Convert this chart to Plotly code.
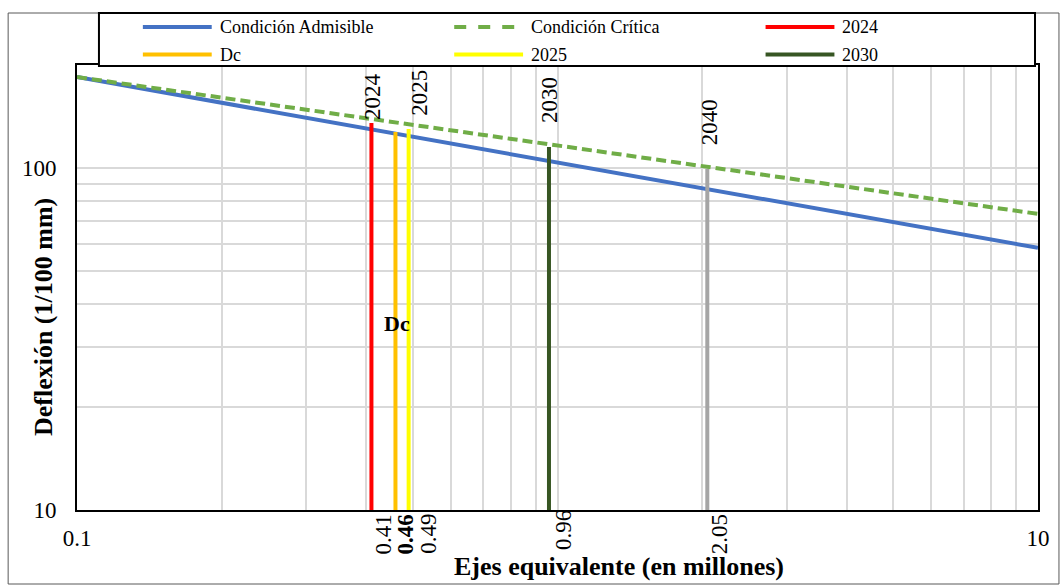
import math
import plotly.graph_objects as go

# Deflection limit curves (1/100 mm) versus equivalent axles (millions)
ejes_curva = [0.1, 1, 10]
admisible = [184.4, 104.0, 58.4]
critica = [184.4, 116.7, 73.4]

# Design-year markers: equivalent axles and the deflection reached
marcas = ["2024", "Dc", "2025", "2030", "2040"]
ejes_marca = [0.41, 0.46, 0.49, 0.96, 2.05]
defl_marca = [135.4, 127.4, 130.0, 115.2, 99.3]
defl_base = 10

x_ticks = [0.1, 1, 10]
x_ticktext = ["0.1", "", "10"]
y_ticks = [10, 100]
y_ticktext = ["10", "100"]

FONT = "Liberation Serif"
W, H = 1062, 585
L, R, T, B = 77, 1040, 65, 510

colores = {
    "Condición Admisible": "#4472C4",
    "Condición Crítica": "#70AD47",
    "2024": "#FF0000",
    "Dc": "#FFC000",
    "2025": "#FFFF00",
    "2030": "#375623",
    "2040": "#A5A5A5",
}


def px(xp):
    return (xp - L) / (R - L)


def py(yp):
    return (B - yp) / (B - T)


fig = go.Figure()
fig.add_trace(go.Scatter(x=ejes_curva, y=admisible, mode="lines", name="Condición Admisible",
                         line=dict(color=colores["Condición Admisible"], width=4), showlegend=False))
fig.add_trace(go.Scatter(x=ejes_curva, y=critica, mode="lines", name="Condición Crítica",
                         line=dict(color=colores["Condición Crítica"], width=4, dash="10px,5px"),
                         showlegend=False))
for nombre, xv, yv in zip(marcas, ejes_marca, defl_marca):
    fig.add_trace(go.Scatter(x=[xv, xv], y=[defl_base, yv], mode="lines", name=nombre,
                             line=dict(color=colores[nombre], width=4), showlegend=False))

annotations = []

# Year labels above the vertical markers (vertical text)
etiquetas_sup = {"2024": (1, 1), "2025": (11, 11), "2030": (1, 22), "2040": (2, 22)}
for nombre, xv, yv in zip(marcas, ejes_marca, defl_marca):
    if nombre in etiquetas_sup:
        dx, dy = etiquetas_sup[nombre]
        annotations.append(dict(x=math.log10(xv), y=math.log10(yv), xref="x", yref="y",
                                text=nombre, textangle=-90, showarrow=False,
                                xanchor="center", yanchor="bottom", xshift=dx, yshift=dy,
                                font=dict(family=FONT, size=23, color="black")))

# Axle values under the markers
desfase_inf = [(12, -2), (10, -2), (19, -2), (14, 2), (12, -2)]
for nombre, xv, (dx, dy) in zip(marcas, ejes_marca, desfase_inf):
    txt = f"<b>{xv:.2f}</b>" if nombre == "Dc" else f"{xv:.2f}"
    annotations.append(dict(x=math.log10(xv), y=0, xref="x", yref="paper",
                            text=txt, textangle=-90, showarrow=False,
                            xanchor="center", yanchor="top", xshift=dx, yshift=dy,
                            font=dict(family=FONT, size=23, color="black")))

annotations.append(dict(x=math.log10(ejes_marca[1]), y=py(323), xref="x", yref="paper",
                        text="<b>Dc</b>", showarrow=False, xanchor="center", yanchor="middle",
                        xshift=2, font=dict(family=FONT, size=22, color="black")))

# Axis titles
annotations.append(dict(x=px(620), y=py(566), xref="paper", yref="paper",
                        text="<b>Ejes equivalente (en millones)</b>", showarrow=False,
                        xanchor="center", yanchor="middle",
                        font=dict(family=FONT, size=26, color="black")))
annotations.append(dict(x=px(43), y=py(317), xref="paper", yref="paper",
                        text="<b>Deflexión (1/100 mm)</b>", showarrow=False, textangle=-90,
                        xanchor="center", yanchor="middle",
                        font=dict(family=FONT, size=26, color="black")))

shapes = []
# Outer chart frame
shapes.append(dict(type="rect", xref="paper", yref="paper", x0=px(8), x1=px(1061),
                   y0=py(584), y1=py(13), line=dict(color="#595959", width=1), layer="below"))
# Legend box
shapes.append(dict(type="rect", xref="paper", yref="paper", x0=px(99), x1=px(1037),
                   y0=py(66), y1=py(13), line=dict(color="black", width=2),
                   fillcolor="white", layer="above"))

# Legend entries: three columns, two rows
leyenda = ["Condición Admisible", "Condición Crítica", "2024", "Dc", "2025", "2030"]
col_x = [143, 455, 767]
fila_y = [27, 54.5]
for i, nombre in enumerate(leyenda):
    x0 = col_x[i % 3]
    y0 = fila_y[i // 3]
    dash = "dash" if nombre == "Condición Crítica" else "solid"
    shapes.append(dict(type="line", xref="paper", yref="paper", x0=px(x0), x1=px(x0 + 69),
                       y0=py(y0), y1=py(y0), layer="above",
                       line=dict(color=colores[nombre], width=4, dash=dash)))
    annotations.append(dict(x=px(x0 + 75), y=py(y0), xref="paper", yref="paper", text=nombre,
                            showarrow=False, xanchor="left", yanchor="middle",
                            font=dict(family=FONT, size=18, color="black")))

grid = "#D9D9D9"
fig.update_layout(
    width=W, height=H,
    margin=dict(l=L, r=W - R, t=T, b=H - B),
    paper_bgcolor="white", plot_bgcolor="white",
    showlegend=False,
    annotations=annotations, shapes=shapes,
    xaxis=dict(type="log", range=[-1, 1], tickvals=x_ticks, ticktext=x_ticktext,
               showgrid=True, gridcolor=grid, gridwidth=1.5,
               minor=dict(dtick="D1", showgrid=True, gridcolor=grid, gridwidth=1.5),
               showline=True, linecolor="black", linewidth=2, mirror=True,
               ticks="", ticklabelstandoff=6, zeroline=False,
               tickfont=dict(family=FONT, size=23, color="black")),
    yaxis=dict(type="log", range=[1, math.log10(200)], tickvals=y_ticks, ticktext=y_ticktext,
               showgrid=True, gridcolor=grid, gridwidth=1.5,
               minor=dict(dtick="D1", showgrid=True, gridcolor=grid, gridwidth=1.5),
               showline=True, linecolor="black", linewidth=2, mirror=True,
               ticks="", ticklabelstandoff=14, zeroline=False,
               tickfont=dict(family=FONT, size=23, color="black")),
)

fig.write_html("out.html")
